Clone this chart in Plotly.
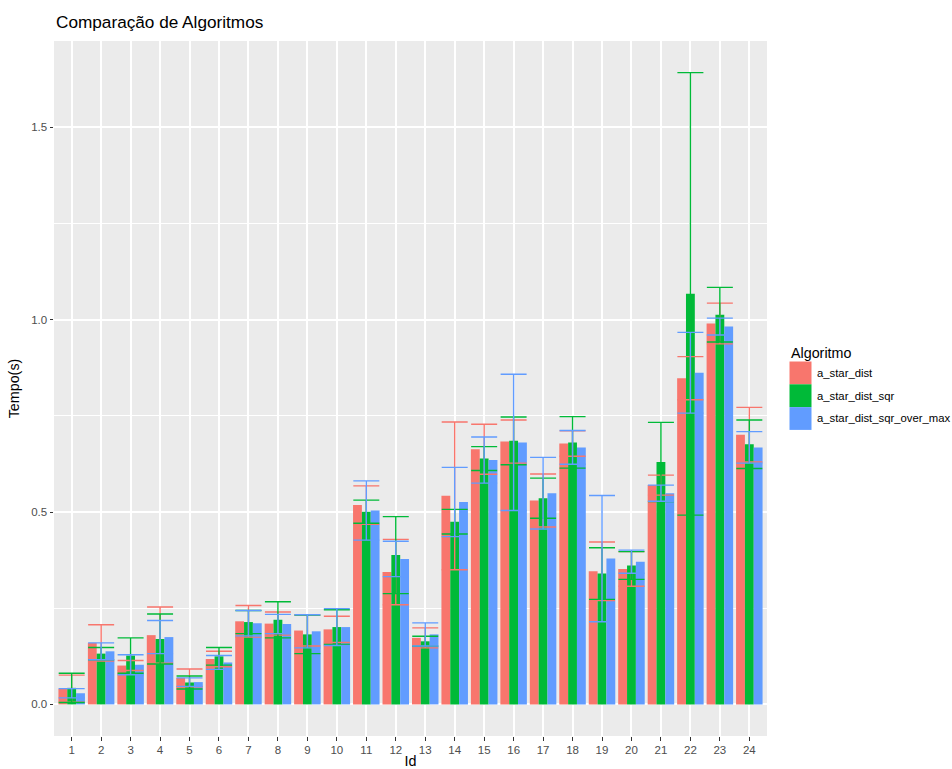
import plotly.graph_objects as go

# Mean run time (s) and standard deviation per test case, one list per algorithm
ids = list(range(1, 25))
algorithms = ["a_star_dist", "a_star_dist_sqr", "a_star_dist_sqr_over_max"]
colors = ["#F8766D", "#00BA38", "#619CFF"]

mean_dist = [0.041, 0.160, 0.101, 0.180, 0.069, 0.118, 0.216, 0.210, 0.192, 0.195, 0.518, 0.344,
             0.173, 0.542, 0.663, 0.683, 0.530, 0.678, 0.346, 0.352, 0.570, 0.848, 0.990, 0.701]
sd_dist = [0.035, 0.047, 0.013, 0.073, 0.023, 0.020, 0.041, 0.030, 0.040, 0.034, 0.050, 0.085,
           0.026, 0.192, 0.065, 0.056, 0.069, 0.033, 0.076, 0.045, 0.026, 0.056, 0.053, 0.071]

mean_sqr = [0.043, 0.132, 0.127, 0.170, 0.057, 0.125, 0.214, 0.220, 0.182, 0.201, 0.501, 0.388,
            0.164, 0.475, 0.639, 0.685, 0.536, 0.681, 0.340, 0.361, 0.630, 1.067, 1.013, 0.676]
sd_sqr = [0.038, 0.016, 0.046, 0.065, 0.017, 0.023, 0.030, 0.047, 0.050, 0.045, 0.030, 0.100,
          0.013, 0.032, 0.031, 0.062, 0.052, 0.067, 0.067, 0.036, 0.103, 0.575, 0.071, 0.063]

mean_over_max = [0.029, 0.138, 0.103, 0.175, 0.058, 0.109, 0.211, 0.209, 0.190, 0.201, 0.504, 0.378,
                 0.182, 0.526, 0.635, 0.681, 0.549, 0.668, 0.379, 0.371, 0.549, 0.862, 0.982, 0.668]
sd_over_max = [0.012, 0.022, 0.026, 0.043, 0.011, 0.018, 0.033, 0.025, 0.043, 0.048, 0.077, 0.046,
               0.030, 0.090, 0.060, 0.177, 0.093, 0.044, 0.164, 0.030, 0.021, 0.105, 0.022, 0.041]

means = [mean_dist, mean_sqr, mean_over_max]
sds = [sd_dist, sd_sqr, sd_over_max]

fig = go.Figure()

# Dodged bars
for name, col, m in zip(algorithms, colors, means):
    fig.add_trace(go.Bar(x=ids, y=m, name=name, marker=dict(color=col, line=dict(width=0)),
                         showlegend=False, hoverinfo="x+y+name"))

# Error bars centred on each Id, drawn over the bars
for name, col, m, s in zip(algorithms, colors, means, sds):
    fig.add_trace(go.Scatter(
        x=ids, y=m, mode="markers", name=name, showlegend=False,
        marker=dict(size=1, opacity=0, color=col),
        error_y=dict(type="data", array=s, symmetric=True, color=col, thickness=1.4, width=13),
    ))

# Plot-area geometry in pixels (figure is 952 x 769)
L, R, T, B = 54, 767, 41, 736
W, H = R - L, B - T


def px_x(p):
    return (p - L) / W


def px_y(p):
    return (B - p) / H


# Legend drawn as keys + labels to the right of the panel
shapes = []
annotations = [dict(text="Algoritmo", x=px_x(789), y=px_y(352.5), xref="paper", yref="paper",
                    xanchor="left", yanchor="middle", showarrow=False,
                    font=dict(size=14.3, color="#000000"))]
key_top = 361.5
key_h = 22.8
for i, (name, col) in enumerate(zip(algorithms, colors)):
    y0 = key_top + i * key_h
    shapes.append(dict(type="rect", xref="paper", yref="paper",
                       x0=px_x(789.5), x1=px_x(811.5), y0=px_y(y0 + key_h), y1=px_y(y0),
                       fillcolor=col, line=dict(width=0), layer="above"))
    annotations.append(dict(text=name, x=px_x(815), y=px_y(y0 + key_h / 2), xref="paper", yref="paper",
                            xanchor="left", yanchor="middle", showarrow=False,
                            font=dict(size=11.3, color="#000000")))

fig.update_layout(
    width=952, height=769,
    margin=dict(l=L, r=952 - R, t=T, b=769 - B, pad=0, autoexpand=False),
    paper_bgcolor="white", plot_bgcolor="#EBEBEB",
    font=dict(family="Liberation Sans, Arial, sans-serif", color="#000000"),
    barmode="group", bargap=0.1, bargroupgap=0,
    title=dict(text="Comparação de Algoritmos", x=56 / 952, y=1 - 22 / 769,
               xref="container", yref="container", xanchor="left", yanchor="middle",
               font=dict(size=17.2, color="#000000")),
    shapes=shapes, annotations=annotations,
    showlegend=False,
)

fig.update_xaxes(
    automargin=False,
    range=[0.4, 24.6], tickmode="array", tickvals=ids, ticktext=[str(i) for i in ids],
    showgrid=True, gridcolor="white", gridwidth=1.6, zeroline=False, showline=False,
    ticks="outside", ticklen=3.5, tickwidth=1.1, tickcolor="#333333",
    tickfont=dict(size=11.5, color="#4D4D4D"),
    title=dict(text="Id", font=dict(size=14.3, color="#000000"), standoff=4),
)
fig.update_yaxes(
    automargin=False,
    range=[-0.0821, 1.7242], tickmode="array", tickvals=[0, 0.5, 1.0, 1.5],
    ticktext=["0.0", "0.5", "1.0", "1.5"],
    showgrid=True, gridcolor="white", gridwidth=1.6, zeroline=False, showline=False,
    ticks="outside", ticklen=3.5, tickwidth=1.1, tickcolor="#333333",
    tickfont=dict(size=11.5, color="#4D4D4D"),
    minor=dict(tickvals=[0.25, 0.75, 1.25], showgrid=True, gridcolor="white", gridwidth=0.8, ticklen=0),
    title=dict(text="Tempo(s)", font=dict(size=14.3, color="#000000"), standoff=8),
)

fig.write_html("out.html")
